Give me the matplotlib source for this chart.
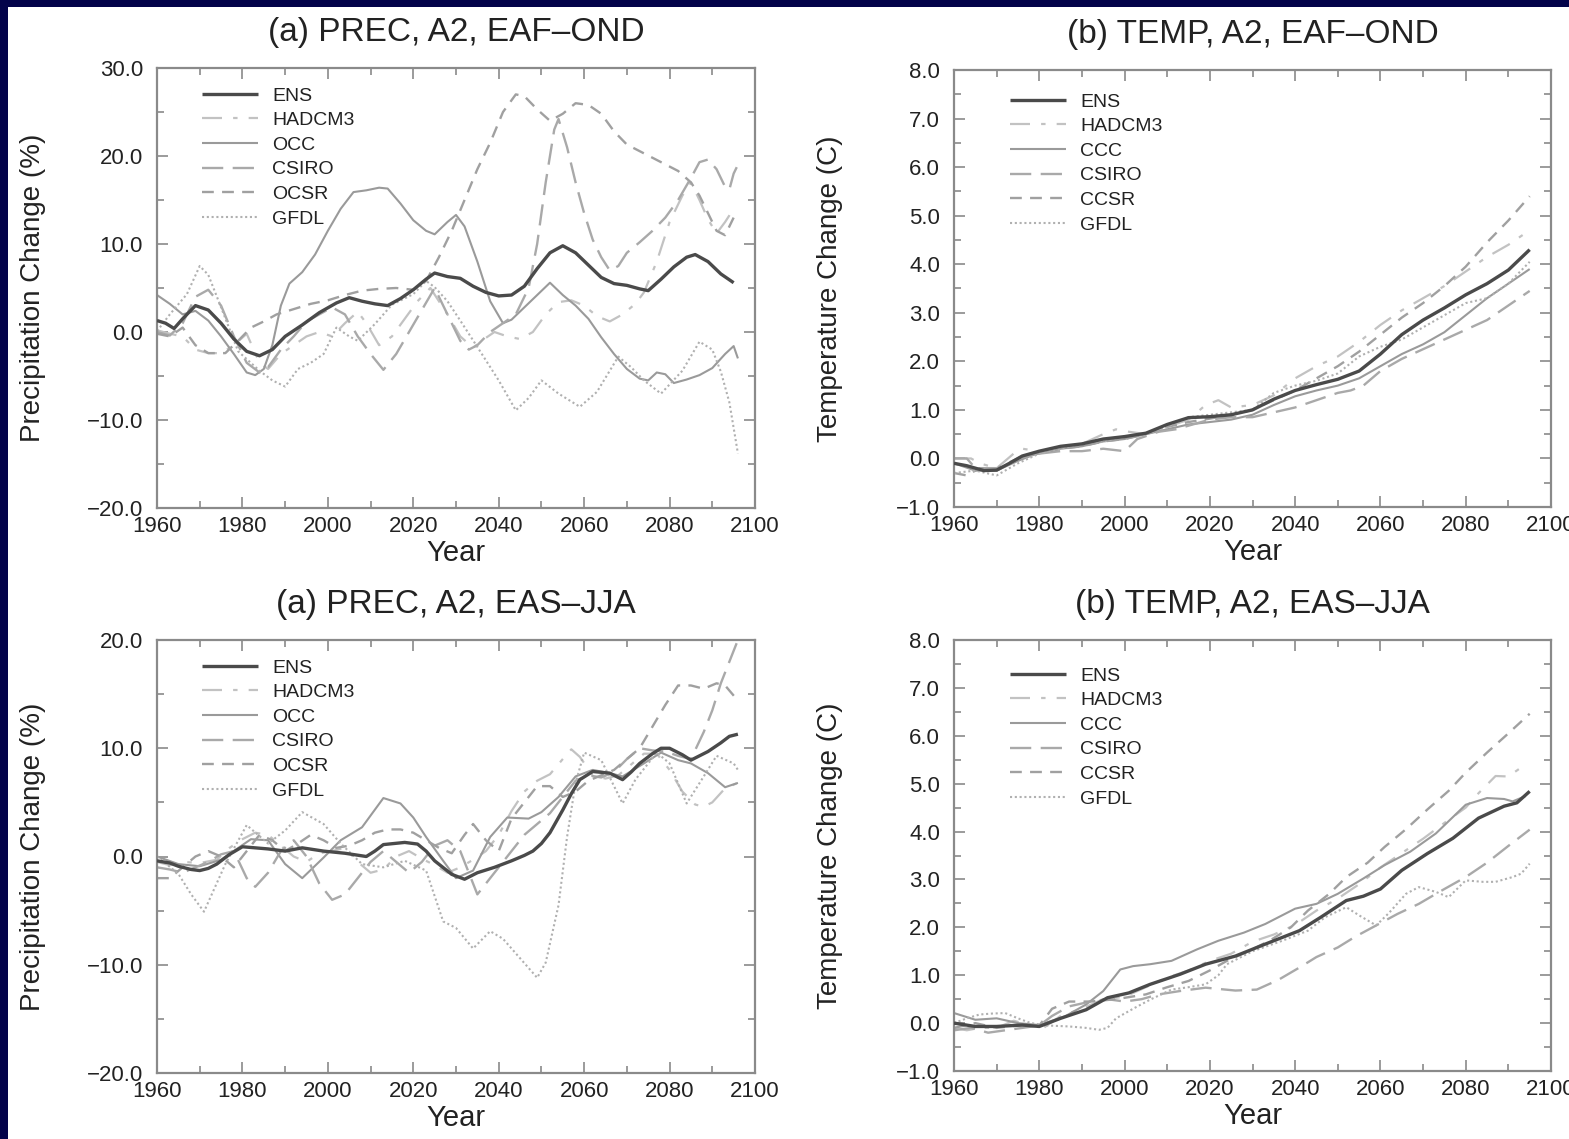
import matplotlib
matplotlib.use("Agg")
import matplotlib.pyplot as plt
from matplotlib.ticker import MultipleLocator, FuncFormatter
from matplotlib.patches import Rectangle

plt.rcParams['font.family'] = ['Liberation Sans', 'DejaVu Sans']

# ---------------------------------------------------------------- data
# (year, value) pairs per model, four panels

# Precipitation change (%), A2, EAF-OND
prec_eaf_ens = [(1960, 1.3), (1962, 1.0), (1964, 0.4), (1966, 1.5), (1969, 3.0), (1972, 2.5), (1975, 1.0),
                (1978, -0.8), (1981, -2.2), (1984, -2.7), (1987, -2.0), (1990, -0.5), (1994, 0.8), (1998, 2.2),
                (2002, 3.3), (2005, 3.9), (2008, 3.5), (2011, 3.2), (2014, 3.0), (2017, 3.8), (2020, 4.8),
                (2023, 6.0), (2025, 6.7), (2028, 6.3), (2031, 6.1), (2034, 5.2), (2037, 4.5), (2040, 4.1),
                (2043, 4.2), (2046, 5.2), (2049, 7.2), (2052, 9.0), (2055, 9.8), (2058, 9.0), (2061, 7.6),
                (2064, 6.2), (2067, 5.5), (2070, 5.3), (2073, 4.9), (2075, 4.7), (2078, 6.0), (2081, 7.4),
                (2084, 8.5), (2086, 8.8), (2089, 8.0), (2092, 6.6), (2095, 5.6)]
prec_eaf_hadcm3 = [(1960, 0.2), (1963, -0.2), (1966, -0.5), (1969, -2.0), (1972, -2.4), (1975, -2.4), (1978, -1.5),
                   (1981, -0.2), (1984, -3.5), (1986, -4.2), (1989, -2.5), (1992, -1.5), (1995, -0.5), (1998, 0.0),
                   (2001, -0.5), (2004, 1.0), (2007, 2.3), (2009, 1.0), (2012, -1.5), (2015, -0.5), (2018, 1.5),
                   (2021, 3.5), (2024, 5.0), (2026, 3.5), (2028, 2.0), (2031, -0.5), (2034, -1.8), (2036, -1.0),
                   (2039, 0.0), (2042, -0.5), (2045, -0.8), (2048, 0.0), (2051, 2.0), (2054, 3.4), (2057, 3.6),
                   (2060, 3.0), (2063, 1.8), (2066, 1.2), (2069, 2.0), (2072, 3.2), (2074, 4.5), (2077, 8.0),
                   (2080, 12.5), (2083, 15.5), (2085, 17.0), (2087, 15.0), (2089, 12.8), (2091, 11.2),
                   (2093, 12.5), (2095, 14.0)]
prec_eaf_ccc = [(1960, 4.2), (1963, 3.2), (1966, 2.0), (1969, 2.4), (1972, 1.3), (1975, -0.5), (1978, -2.5),
                (1981, -4.6), (1983, -4.9), (1985, -4.2), (1987, -1.5), (1989, 3.0), (1991, 5.5), (1994, 6.8),
                (1997, 8.8), (2000, 11.5), (2003, 14.0), (2006, 15.9), (2009, 16.1), (2012, 16.4), (2014, 16.3),
                (2017, 14.6), (2020, 12.7), (2023, 11.5), (2025, 11.1), (2028, 12.5), (2030, 13.3), (2032, 12.0),
                (2035, 8.0), (2038, 3.5), (2041, 1.0), (2043, 1.4), (2046, 2.8), (2049, 4.2), (2052, 5.6),
                (2055, 4.2), (2058, 3.0), (2061, 1.5), (2064, -0.6), (2067, -2.5), (2070, -4.2), (2073, -5.3),
                (2075, -5.5), (2077, -4.6), (2079, -4.8), (2081, -5.8), (2084, -5.4), (2087, -4.9), (2090, -4.1),
                (2093, -2.5), (2095, -1.6), (2096, -3.0)]
prec_eaf_csiro = [(1960, 0.0), (1963, -0.4), (1966, 1.0), (1969, 4.0), (1972, 4.8), (1975, 3.0), (1978, -0.5),
                  (1981, -3.5), (1984, -4.6), (1986, -4.0), (1989, -2.0), (1992, -0.5), (1995, 1.2), (1998, 2.0),
                  (2001, 2.8), (2004, 2.0), (2007, -0.5), (2010, -2.5), (2013, -4.3), (2016, -2.5), (2019, 0.0),
                  (2022, 2.5), (2025, 5.0), (2028, 2.0), (2031, -1.0), (2033, -2.0), (2035, -1.5), (2038, 0.0),
                  (2041, 1.0), (2044, 2.0), (2047, 5.0), (2049, 10.0), (2051, 17.0), (2053, 23.0), (2054, 24.2),
                  (2056, 21.0), (2058, 17.0), (2060, 13.5), (2062, 10.5), (2064, 8.5), (2066, 7.0), (2068, 7.5),
                  (2070, 9.0), (2073, 10.2), (2076, 11.5), (2079, 13.0), (2082, 15.0), (2085, 17.5), (2087, 19.3),
                  (2089, 19.6), (2091, 18.5), (2093, 16.5), (2094, 16.2), (2095, 18.0), (2096, 19.0)]
prec_eaf_ccsr = [(1960, -0.2), (1963, -0.5), (1966, 0.5), (1969, -1.5), (1972, -2.4), (1976, -2.4), (1979, -1.0),
                 (1982, 0.5), (1985, 1.2), (1988, 2.0), (1992, 2.6), (1996, 3.2), (2000, 3.6), (2004, 4.2),
                 (2008, 4.7), (2012, 4.9), (2016, 5.0), (2020, 4.8), (2023, 5.8), (2026, 8.5), (2029, 11.5),
                 (2032, 15.0), (2035, 18.5), (2038, 21.5), (2041, 25.0), (2044, 27.0), (2046, 26.8), (2049, 25.3),
                 (2052, 24.0), (2055, 24.8), (2058, 26.0), (2061, 25.8), (2064, 24.8), (2067, 22.8), (2070, 21.3),
                 (2074, 20.3), (2078, 19.3), (2082, 18.3), (2085, 17.0), (2087, 15.5), (2089, 13.5), (2091, 11.5),
                 (2093, 11.0), (2095, 13.0)]
prec_eaf_gfdl = [(1960, 0.1), (1963, 2.0), (1967, 4.3), (1970, 7.5), (1972, 6.5), (1975, 2.8), (1979, -2.2),
                 (1984, -4.4), (1987, -5.5), (1990, -6.2), (1993, -4.2), (1996, -3.5), (1999, -2.5), (2002, 0.5),
                 (2005, -0.5), (2007, -1.0), (2011, 0.9), (2015, 3.1), (2020, 4.3), (2023, 5.8), (2025, 5.1),
                 (2028, 3.5), (2031, 1.3), (2035, -1.7), (2040, -5.5), (2044, -8.9), (2047, -7.5), (2050, -5.5),
                 (2054, -7.0), (2059, -8.5), (2063, -6.8), (2068, -2.8), (2071, -4.0), (2074, -5.5), (2078, -7.0),
                 (2083, -4.4), (2087, -1.1), (2090, -2.0), (2092, -4.5), (2094, -8.0), (2096, -13.8)]

# Temperature change (C), A2, EAF-OND
temp_eaf_ens = [(1960, -0.1), (1963, -0.15), (1965, -0.2), (1967, -0.25), (1970, -0.24), (1973, -0.1),
                (1976, 0.05), (1980, 0.15), (1985, 0.25), (1990, 0.3), (1995, 0.4), (2000, 0.45), (2005, 0.52),
                (2010, 0.7), (2015, 0.84), (2020, 0.86), (2025, 0.9), (2030, 1.0), (2035, 1.22), (2040, 1.4),
                (2045, 1.52), (2050, 1.63), (2055, 1.8), (2060, 2.15), (2065, 2.55), (2070, 2.85), (2075, 3.1),
                (2080, 3.37), (2085, 3.6), (2090, 3.88), (2095, 4.3)]
temp_eaf_hadcm3 = [(1960, 0.0), (1964, 0.0), (1966, -0.1), (1970, -0.2), (1974, 0.1), (1976, 0.2), (1980, 0.15),
                   (1985, 0.2), (1990, 0.3), (1995, 0.5), (1998, 0.6), (2001, 0.55), (2005, 0.5), (2010, 0.65),
                   (2015, 0.8), (2019, 1.1), (2022, 1.2), (2025, 1.05), (2030, 1.1), (2035, 1.3), (2040, 1.65),
                   (2045, 1.9), (2050, 2.1), (2055, 2.4), (2060, 2.75), (2065, 3.05), (2070, 3.3), (2075, 3.55),
                   (2080, 3.85), (2085, 4.15), (2090, 4.4), (2095, 4.7)]
temp_eaf_ccc = [(1960, -0.1), (1965, -0.25), (1970, -0.25), (1975, -0.05), (1980, 0.12), (1985, 0.2), (1990, 0.25),
                (1995, 0.35), (2000, 0.4), (2005, 0.5), (2010, 0.6), (2015, 0.7), (2020, 0.75), (2025, 0.8),
                (2030, 0.9), (2035, 1.1), (2040, 1.28), (2045, 1.4), (2050, 1.5), (2055, 1.65), (2060, 1.9),
                (2065, 2.15), (2070, 2.35), (2075, 2.6), (2080, 2.95), (2085, 3.3), (2090, 3.6), (2095, 3.9)]
temp_eaf_csiro = [(1960, 0.0), (1963, 0.0), (1965, -0.2), (1970, -0.2), (1975, 0.0), (1980, 0.1), (1985, 0.15),
                  (1990, 0.15), (1995, 0.2), (2000, 0.15), (2003, 0.4), (2008, 0.55), (2012, 0.6), (2016, 0.7),
                  (2020, 0.8), (2025, 0.85), (2030, 0.85), (2035, 0.95), (2040, 1.05), (2045, 1.2), (2050, 1.35),
                  (2053, 1.4), (2056, 1.5), (2060, 1.8), (2065, 2.05), (2070, 2.25), (2075, 2.45), (2080, 2.65),
                  (2085, 2.85), (2090, 3.15), (2095, 3.45)]
temp_eaf_ccsr = [(1960, -0.3), (1963, -0.35), (1966, -0.2), (1970, -0.25), (1973, -0.1), (1976, 0.05), (1980, 0.1),
                 (1985, 0.2), (1990, 0.25), (1995, 0.35), (2000, 0.4), (2005, 0.5), (2010, 0.65), (2015, 0.75),
                 (2020, 0.82), (2025, 0.9), (2030, 1.0), (2035, 1.2), (2040, 1.4), (2045, 1.65), (2050, 1.9),
                 (2055, 2.2), (2060, 2.55), (2065, 2.9), (2070, 3.2), (2075, 3.55), (2080, 3.95), (2085, 4.45),
                 (2090, 4.9), (2095, 5.4)]
temp_eaf_gfdl = [(1960, -0.3), (1965, -0.25), (1970, -0.35), (1975, -0.1), (1980, 0.1), (1985, 0.2), (1990, 0.3),
                 (1995, 0.35), (2000, 0.45), (2005, 0.5), (2010, 0.65), (2015, 0.85), (2020, 0.9), (2025, 0.95),
                 (2030, 1.0), (2035, 1.35), (2040, 1.5), (2045, 1.6), (2050, 1.75), (2055, 2.1), (2060, 2.3),
                 (2065, 2.45), (2070, 2.7), (2075, 2.95), (2080, 3.2), (2085, 3.3), (2090, 3.6), (2095, 4.05)]

# Precipitation change (%), A2, EAS-JJA
prec_eas_ens = [(1960, -0.4), (1963, -0.6), (1965, -0.9), (1968, -1.2), (1970, -1.3), (1972, -1.1), (1974, -0.7),
                (1977, 0.2), (1980, 0.9), (1983, 0.8), (1986, 0.7), (1990, 0.5), (1994, 0.8), (1999, 0.5),
                (2004, 0.3), (2009, 0.0), (2011, 0.5), (2013, 1.1), (2018, 1.3), (2021, 1.15), (2023, 0.5),
                (2025, -0.4), (2029, -1.65), (2032, -2.1), (2035, -1.5), (2039, -1.0), (2043, -0.4), (2046, 0.1),
                (2048, 0.5), (2050, 1.2), (2052, 2.2), (2055, 4.3), (2057, 5.8), (2059, 7.1), (2062, 7.85),
                (2066, 7.7), (2069, 7.1), (2071, 7.8), (2073, 8.6), (2076, 9.5), (2078, 10.0), (2080, 10.0),
                (2083, 9.4), (2085, 8.9), (2087, 9.3), (2089, 9.7), (2092, 10.5), (2094, 11.1), (2096, 11.3)]
prec_eas_hadcm3 = [(1960, -0.5), (1963, -0.8), (1966, -0.5), (1970, -0.6), (1974, -0.3), (1977, 0.8), (1980, 1.6),
                   (1983, 2.2), (1986, 2.0), (1989, 1.0), (1992, 0.0), (1995, -0.5), (1998, 0.3), (2001, 0.5),
                   (2004, 0.8), (2007, -0.5), (2010, -1.5), (2013, -1.2), (2016, 0.0), (2019, 0.5), (2022, -0.2),
                   (2025, -0.8), (2028, -1.5), (2031, -1.0), (2034, -0.3), (2037, 0.5), (2040, 2.0), (2043, 4.2),
                   (2046, 6.0), (2049, 7.0), (2052, 7.6), (2055, 9.0), (2057, 9.9), (2059, 9.2), (2062, 7.5),
                   (2065, 7.2), (2068, 7.5), (2071, 8.5), (2074, 9.5), (2077, 9.5), (2080, 8.0), (2083, 6.0),
                   (2086, 4.8), (2088, 4.6), (2090, 5.0), (2093, 6.3), (2096, 6.8)]
prec_eas_ccc = [(1960, 0.0), (1965, -0.7), (1970, -0.9), (1975, -0.3), (1982, 1.6), (1986, 1.5), (1990, -0.7),
                (1994, -2.0), (1999, -0.1), (2003, 1.5), (2008, 2.7), (2013, 5.4), (2017, 4.9), (2020, 3.6),
                (2023, 1.8), (2027, -0.4), (2030, -2.0), (2034, -1.3), (2038, 1.8), (2042, 3.6), (2047, 3.5),
                (2050, 4.1), (2054, 5.5), (2058, 7.4), (2062, 8.0), (2066, 7.7), (2069, 7.4), (2074, 8.6),
                (2078, 9.6), (2082, 8.9), (2085, 8.6), (2089, 7.7), (2093, 6.4), (2096, 6.8)]
prec_eas_csiro = [(1960, -1.0), (1963, -1.2), (1966, -1.5), (1969, -1.0), (1972, -0.5), (1975, 0.2), (1978, 0.5),
                  (1981, -2.0), (1983, -2.8), (1986, -1.5), (1989, 0.5), (1992, 1.5), (1995, 0.0), (1998, -2.5),
                  (2001, -4.0), (2004, -3.5), (2007, -2.0), (2010, -0.5), (2013, 0.5), (2016, -0.5), (2019, -1.5),
                  (2022, -0.5), (2025, 1.0), (2028, 1.5), (2031, 0.5), (2033, -1.5), (2035, -3.5), (2037, -2.5),
                  (2040, -1.0), (2043, 0.5), (2046, 2.0), (2049, 3.0), (2052, 4.0), (2055, 5.5), (2058, 7.0),
                  (2061, 7.5), (2064, 7.3), (2067, 7.8), (2070, 9.0), (2073, 10.0), (2076, 9.8), (2079, 9.7),
                  (2082, 9.3), (2085, 9.0), (2088, 11.5), (2090, 13.5), (2092, 16.0), (2094, 18.0), (2096, 20.0)]
prec_eas_ccsr = [(1960, -2.0), (1963, -2.0), (1966, -1.0), (1969, 0.0), (1972, 0.5), (1975, 0.0), (1978, -1.0),
                 (1981, 0.5), (1984, 2.0), (1987, 1.5), (1990, 0.5), (1993, 1.2), (1996, 2.0), (1999, 1.5),
                 (2002, 0.8), (2005, 1.0), (2008, 1.5), (2011, 2.2), (2014, 2.5), (2017, 2.5), (2020, 2.2),
                 (2023, 1.5), (2026, 0.8), (2029, 0.3), (2032, 2.0), (2034, 3.0), (2037, 1.5), (2040, 0.5),
                 (2043, 3.5), (2046, 5.0), (2049, 6.5), (2052, 6.5), (2055, 5.5), (2058, 6.0), (2061, 7.0),
                 (2064, 7.5), (2067, 8.0), (2070, 9.0), (2073, 10.0), (2076, 12.0), (2079, 14.0), (2082, 15.8),
                 (2085, 15.8), (2088, 15.5), (2091, 16.0), (2093, 15.8), (2096, 14.4)]
prec_eas_gfdl = [(1960, 0.0), (1965, -1.6), (1968, -3.5), (1971, -5.1), (1976, -0.7), (1981, 2.9), (1986, 1.2),
                 (1990, 2.4), (1994, 4.1), (1999, 3.0), (2003, 1.2), (2008, -0.7), (2013, -1.0), (2018, -0.4),
                 (2023, -1.3), (2027, -6.0), (2030, -6.6), (2034, -8.5), (2038, -6.9), (2041, -7.6), (2045, -9.4),
                 (2049, -11.2), (2051, -9.8), (2054, -4.5), (2056, 1.8), (2058, 6.8), (2060, 9.6), (2064, 8.9),
                 (2069, 4.9), (2072, 7.1), (2077, 9.6), (2080, 8.6), (2084, 4.9), (2088, 7.4), (2091, 9.3),
                 (2095, 8.6), (2096, 8.0)]

# Temperature change (C), A2, EAS-JJA
temp_eas_ens = [(1960, 0.0), (1965, -0.07), (1970, -0.07), (1976, -0.04), (1980, -0.07), (1985, 0.1), (1991, 0.28),
                (1996, 0.53), (2001, 0.63), (2006, 0.81), (2013, 1.02), (2019, 1.23), (2026, 1.4), (2033, 1.65),
                (2041, 1.93), (2046, 2.21), (2052, 2.56), (2056, 2.65), (2060, 2.8), (2065, 3.19), (2071, 3.54),
                (2077, 3.86), (2083, 4.28), (2089, 4.53), (2092, 4.6), (2095, 4.84)]
temp_eas_hadcm3 = [(1960, -0.1), (1963, -0.15), (1966, -0.1), (1970, -0.1), (1974, 0.05), (1978, -0.05),
                   (1981, -0.1), (1985, 0.15), (1990, 0.3), (1995, 0.5), (2000, 0.55), (2005, 0.75), (2010, 0.95),
                   (2015, 1.1), (2020, 1.3), (2025, 1.45), (2030, 1.7), (2035, 1.85), (2040, 2.05), (2045, 2.35),
                   (2050, 2.6), (2055, 2.9), (2060, 3.25), (2065, 3.55), (2070, 3.85), (2075, 4.18), (2080, 4.5),
                   (2083, 4.8), (2087, 5.16), (2090, 5.15), (2094, 5.4)]
temp_eas_ccc = [(1960, 0.21), (1965, 0.07), (1970, 0.1), (1975, 0.0), (1980, -0.04), (1986, 0.14), (1991, 0.39),
                (1995, 0.67), (1999, 1.12), (2002, 1.19), (2006, 1.23), (2011, 1.3), (2017, 1.54), (2022, 1.72),
                (2028, 1.89), (2033, 2.07), (2040, 2.39), (2045, 2.49), (2050, 2.7), (2056, 3.02), (2061, 3.3),
                (2067, 3.58), (2073, 3.96), (2080, 4.56), (2085, 4.7), (2089, 4.68), (2091, 4.63), (2094, 4.74)]
temp_eas_csiro = [(1960, -0.15), (1964, -0.1), (1968, -0.2), (1972, -0.15), (1976, -0.1), (1980, -0.05),
                  (1983, 0.15), (1987, 0.35), (1992, 0.45), (1996, 0.5), (2000, 0.45), (2004, 0.5), (2008, 0.6),
                  (2013, 0.67), (2019, 0.74), (2026, 0.68), (2031, 0.7), (2036, 0.9), (2041, 1.16), (2045, 1.38),
                  (2050, 1.58), (2054, 1.8), (2059, 2.04), (2064, 2.28), (2069, 2.49), (2074, 2.75), (2080, 3.05),
                  (2085, 3.35), (2090, 3.7), (2095, 4.04)]
temp_eas_ccsr = [(1960, -0.1), (1965, 0.0), (1970, -0.1), (1975, -0.05), (1980, -0.05), (1983, 0.3), (1987, 0.45),
                 (1992, 0.45), (1998, 0.5), (2005, 0.6), (2010, 0.75), (2015, 0.88), (2020, 1.1), (2024, 1.3),
                 (2029, 1.5), (2034, 1.72), (2039, 2.0), (2043, 2.35), (2048, 2.7), (2052, 3.05), (2057, 3.35),
                 (2061, 3.68), (2066, 4.05), (2071, 4.46), (2076, 4.85), (2080, 5.23), (2085, 5.65), (2090, 6.05),
                 (2095, 6.46)]
temp_eas_gfdl = [(1960, 0.0), (1963, 0.1), (1966, 0.18), (1969, 0.2), (1972, 0.21), (1975, 0.1), (1978, 0.0),
                 (1982, -0.05), (1987, -0.07), (1991, -0.1), (1994, -0.14), (1996, -0.1), (1998, 0.1), (2002, 0.3),
                 (2006, 0.49), (2011, 0.7), (2015, 0.75), (2019, 0.81), (2022, 1.0), (2024, 1.23), (2030, 1.5),
                 (2037, 1.72), (2043, 1.93), (2047, 2.21), (2052, 2.42), (2055, 2.25), (2059, 2.04), (2062, 2.3),
                 (2066, 2.7), (2069, 2.84), (2073, 2.74), (2076, 2.63), (2080, 2.98), (2084, 2.95), (2087, 2.95),
                 (2091, 3.05), (2093, 3.12), (2095, 3.33)]

titles = ["(a) PREC, A2, EAF\u2013OND", "(b) TEMP, A2, EAF\u2013OND",
          "(a) PREC, A2, EAS\u2013JJA", "(b) TEMP, A2, EAS\u2013JJA"]
labels_prec = ["ENS", "HADCM3", "OCC", "CSIRO", "OCSR", "GFDL"]
labels_temp = ["ENS", "HADCM3", "CCC", "CSIRO", "CCSR", "GFDL"]

# ---------------------------------------------------------------- styles
W, H = 1569, 1139
styles = [
    dict(color="#4a4a4a", lw=2.4, linestyle="-"),                      # ENS
    dict(color="#c2c2c2", lw=1.6, linestyle=(0, (9, 5, 2, 5))),        # HADCM3
    dict(color="#9a9a9a", lw=1.5, linestyle="-"),                      # CCC
    dict(color="#a9a9a9", lw=1.7, linestyle=(0, (9, 4))),              # CSIRO
    dict(color="#a0a0a0", lw=1.7, linestyle=(0, (5, 3.5))),            # CCSR
    dict(color="#b0b0b0", lw=1.5, linestyle=(0, (1, 1.3))),            # GFDL
]

fig = plt.figure(figsize=(W / 100, H / 100), dpi=100, facecolor="white")

# dark slide border along the top and left edges
fig.patches.append(Rectangle((0, 1 - 7 / H), 1, 7 / H, transform=fig.transFigure,
                             facecolor="#03034a", edgecolor="none", zorder=10))
fig.patches.append(Rectangle((0, 0), 8 / W, 1, transform=fig.transFigure,
                             facecolor="#03034a", edgecolor="none", zorder=10))


def px_rect(x0, y0, x1, y1):
    return [x0 / W, 1 - y1 / H, (x1 - x0) / W, (y1 - y0) / H]


def fmt(v, pos):
    return f"{v:.1f}".replace("-", "\u2212")


panels = [
    dict(rect=(157, 68, 755, 508), series=[prec_eaf_ens, prec_eaf_hadcm3, prec_eaf_ccc, prec_eaf_csiro,
                                            prec_eaf_ccsr, prec_eaf_gfdl],
         ylim=(-20, 30), major=10, minor=5, labels=labels_prec, ylabel="Precipitation Change (%)",
         leg=(202, 100)),
    dict(rect=(954, 70, 1551, 507), series=[temp_eaf_ens, temp_eaf_hadcm3, temp_eaf_ccc, temp_eaf_csiro,
                                             temp_eaf_ccsr, temp_eaf_gfdl],
         ylim=(-1, 8), major=1, minor=0.5, labels=labels_temp, ylabel="Temperature Change (C)",
         leg=(1010, 106)),
    dict(rect=(157, 640, 755, 1073), series=[prec_eas_ens, prec_eas_hadcm3, prec_eas_ccc, prec_eas_csiro,
                                              prec_eas_ccsr, prec_eas_gfdl],
         ylim=(-20, 20), major=10, minor=5, labels=labels_prec, ylabel="Precipitation Change (%)",
         leg=(202, 672)),
    dict(rect=(954, 640, 1551, 1071), series=[temp_eas_ens, temp_eas_hadcm3, temp_eas_ccc, temp_eas_csiro,
                                               temp_eas_ccsr, temp_eas_gfdl],
         ylim=(-1, 8), major=1, minor=0.5, labels=labels_temp, ylabel="Temperature Change (C)",
         leg=(1010, 680)),
]

text_col = "#222222"
spine_col = "#8a8a8a"

for i, p in enumerate(panels):
    x0, y0, x1, y1 = p["rect"]
    ax = fig.add_axes(px_rect(x0, y0, x1, y1))
    handles = []
    for data, st, lab in zip(p["series"], styles, p["labels"]):
        yrs = [d[0] for d in data]
        vals = [d[1] for d in data]
        h, = ax.plot(yrs, vals, label=lab, solid_capstyle="butt", dash_capstyle="butt", **st)
        handles.append(h)
    # ensemble mean on top
    handles[0].set_zorder(5)

    ax.set_xlim(1960, 2100)
    ax.set_ylim(*p["ylim"])
    ax.xaxis.set_major_locator(MultipleLocator(20))
    ax.xaxis.set_minor_locator(MultipleLocator(10))
    ax.yaxis.set_major_locator(MultipleLocator(p["major"]))
    ax.yaxis.set_minor_locator(MultipleLocator(p["minor"]))
    ax.yaxis.set_major_formatter(FuncFormatter(fmt))
    ax.tick_params(which="both", direction="in", top=True, right=True, color=spine_col, width=1.2)
    ax.tick_params(which="major", length=8)
    ax.tick_params(which="minor", length=5)
    ax.tick_params(axis="x", labelsize=16, pad=6, labelcolor=text_col)
    ax.tick_params(axis="y", labelsize=16, pad=10, labelcolor=text_col)
    for s in ax.spines.values():
        s.set_color(spine_col)
        s.set_linewidth(1.6)

    lx, ly = p["leg"]
    ax_w, ax_h = x1 - x0, y1 - y0
    leg = ax.legend(handles=handles, loc="upper left",
                    bbox_to_anchor=((lx - x0) / ax_w, 1 - (ly - y0 - 13) / ax_h),
                    frameon=False, fontsize=14, handlelength=2.9, handletextpad=0.7,
                    labelspacing=0.36, borderaxespad=0, borderpad=0)
    for t in leg.get_texts():
        t.set_color(text_col)

    cx = (x0 + x1) / 2
    fig.text(cx / W, 1 - (y0 - 36) / H, titles[i], ha="center", va="center", fontsize=24, color=text_col)
    fig.text(cx / W, 1 - (y1 + 45) / H, "Year", ha="center", va="center", fontsize=21, color=text_col)
    fig.text((x0 - 124) / W, 1 - ((y0 + y1) / 2) / H, p["ylabel"], ha="center", va="center",
             rotation=90, fontsize=20, color=text_col)

fig.savefig("out.png", dpi=100, facecolor="white")
